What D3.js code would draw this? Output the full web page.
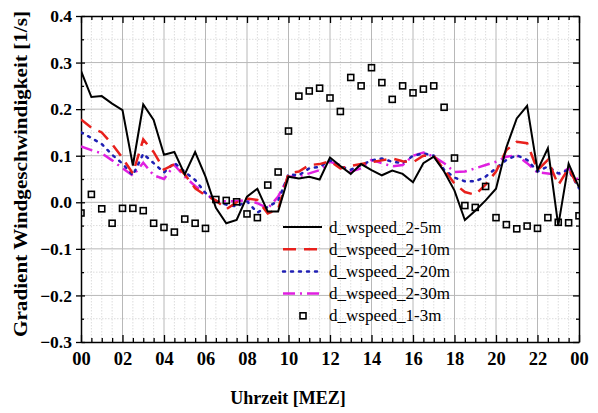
<!DOCTYPE html>
<html><head><meta charset="utf-8">
<script src="https://cdn.jsdelivr.net/npm/d3@7"></script>
<style>body{margin:0;background:#fff}svg{display:block}</style>
</head><body>
<svg id="c" width="598" height="413"></svg>
<script>
const hours = [0,0.5,1,1.5,2,2.5,3,3.5,4,4.5,5,5.5,6,6.5,7,7.5,8,8.5,9,9.5,10,10.5,11,11.5,12,12.5,13,13.5,14,14.5,15,15.5,16,16.5,17,17.5,18,18.5,19,19.5,20,20.5,21,21.5,22,22.5,23,23.5,24];
const xTickLabels = ["00","02","04","06","08","10","12","14","16","18","20","22","00"];
const yTicks = [0.4,0.3,0.2,0.1,0.0,-0.1,-0.2,-0.3];
const seriesNames = ["d_wspeed_2-5m","d_wspeed_2-10m","d_wspeed_2-20m","d_wspeed_2-30m","d_wspeed_1-3m"];
const s2_5 = [0.282,0.226,0.228,0.212,0.198,0.079,0.21,0.177,0.102,0.108,0.060,0.108,0.055,-0.012,-0.045,-0.038,0.012,0.029,-0.02,-0.02,0.055,0.051,0.055,0.049,0.096,0.078,0.061,0.082,0.069,0.058,0.068,0.061,0.043,0.084,0.098,0.066,0.025,-0.038,-0.018,0.004,0.029,0.118,0.18,0.207,0.069,0.116,-0.05,0.083,0.032];
const s2_10 = [0.178,0.160,0.150,0.125,0.095,0.062,0.135,0.108,0.070,0.082,0.060,0.030,0.015,0.004,-0.015,0.000,0.008,0.005,-0.024,-0.015,0.062,0.066,0.080,0.082,0.088,0.073,0.078,0.082,0.086,0.090,0.094,0.088,0.086,0.100,0.100,0.070,0.040,0.022,0.016,0.038,0.066,0.112,0.130,0.127,0.069,0.091,0.037,0.073,0.030];
const s2_20 = [0.150,0.138,0.125,0.102,0.083,0.058,0.104,0.084,0.064,0.085,0.065,0.048,0.020,0.002,-0.005,-0.009,0.002,-0.022,-0.010,0.003,0.060,0.058,0.073,0.076,0.090,0.077,0.070,0.080,0.090,0.094,0.087,0.084,0.100,0.105,0.100,0.070,0.053,0.045,0.045,0.055,0.073,0.091,0.101,0.091,0.066,0.077,0.062,0.069,0.030];
const s2_30 = [0.120,0.112,0.105,0.090,0.073,0.057,0.085,0.058,0.050,0.080,0.055,0.035,0.019,0.002,0.002,0.002,0.005,-0.002,-0.013,0.012,0.055,0.056,0.062,0.069,0.087,0.080,0.066,0.073,0.091,0.084,0.077,0.080,0.100,0.107,0.098,0.084,0.065,0.066,0.073,0.080,0.087,0.098,0.101,0.084,0.064,0.062,0.059,0.073,0.045];
const s1_3 = [-0.023,0.017,-0.014,-0.045,-0.013,-0.013,-0.018,-0.045,-0.054,-0.064,-0.036,-0.045,-0.056,0.006,0.004,0.001,-0.025,-0.033,0.037,0.065,0.153,0.228,0.239,0.245,0.224,0.195,0.268,0.250,0.289,0.257,0.221,0.250,0.235,0.243,0.250,0.204,0.095,-0.007,-0.011,0.034,-0.033,-0.048,-0.057,-0.051,-0.056,-0.033,-0.043,-0.044,-0.029];

const svg = d3.select("#c");
const L=81, R=579, T=16, B=342;
const x = d3.scaleLinear().domain([0,24]).range([L,R]);
const y = d3.scaleLinear().domain([-0.3,0.4]).range([B,T]);
const serif = "'Liberation Serif','Times New Roman',serif";

// grid
const g = svg.append("g");
const minorX = d3.range(0,24.01,0.5).filter(v=>v%2!==0);
const minorY = d3.range(-0.25,0.4,0.1);
g.selectAll(".mx").data(minorX).enter().append("line")
 .attr("x1",d=>x(d)).attr("x2",d=>x(d)).attr("y1",T).attr("y2",B)
 .attr("stroke","#dcdcdc").attr("stroke-width",1).attr("stroke-dasharray","1.5,1.5");
g.selectAll(".my").data(minorY).enter().append("line")
 .attr("y1",d=>y(d)).attr("y2",d=>y(d)).attr("x1",L).attr("x2",R)
 .attr("stroke","#dcdcdc").attr("stroke-width",1).attr("stroke-dasharray","1.5,1.5");
g.selectAll(".Mx").data(d3.range(2,24,2)).enter().append("line")
 .attr("x1",d=>x(d)).attr("x2",d=>x(d)).attr("y1",T).attr("y2",B)
 .attr("stroke","#b8b8b8").attr("stroke-width",1);
g.selectAll(".My").data(yTicks.slice(1,-1)).enter().append("line")
 .attr("y1",d=>y(d)).attr("y2",d=>y(d)).attr("x1",L).attr("x2",R)
 .attr("stroke","#b8b8b8").attr("stroke-width",1);

// axes
const xTickVals = d3.range(0,24.01,0.5);
const yTickVals = d3.range(-0.3,0.401,0.05);
function axis(gen, tr){ const a = svg.append("g").attr("transform",tr).call(gen); a.select(".domain").attr("stroke","#000").attr("stroke-width",1.5); a.selectAll(".tick line").attr("stroke","#000").attr("stroke-width",1.3); return a; }
// bottom
const xb = axis(d3.axisBottom(x).tickValues(xTickVals).tickSize(-4).tickSizeOuter(0).tickFormat((d)=> d%2===0 ? xTickLabels[d/2] : ""), `translate(0,${B})`);
xb.selectAll(".tick line").attr("y2",d=>d%2===0?-7:-4);
xb.selectAll(".tick text").attr("y",9).attr("dy","0.75em").style("font-family",serif).style("font-weight","bold").style("font-size","18.5px").attr("fill","#000");
// top
const xt = axis(d3.axisTop(x).tickValues(xTickVals).tickSize(-4).tickSizeOuter(0).tickFormat(""), `translate(0,${T})`);
xt.selectAll(".tick line").attr("y2",d=>d%2===0?7:4);
// left
const yl = axis(d3.axisLeft(y).tickValues(yTickVals).tickSize(4).tickSizeOuter(0).tickFormat(d=> Math.abs(Math.round(d*100))%10===0 ? d3.format(".1f")(d) : ""), `translate(${L},0)`);
yl.selectAll(".tick line").attr("x1",d=>Math.abs(Math.round(d*100))%10===0?4:3).attr("x2",d=>Math.abs(Math.round(d*100))%10===0?-5:0);
yl.selectAll(".tick text").attr("x",-9).style("font-family",serif).style("font-weight","bold").style("font-size","17.5px").attr("fill","#000");
// right
const yr = axis(d3.axisRight(y).tickValues(yTickVals).tickSize(-4).tickSizeOuter(0).tickFormat(""), `translate(${R},0)`);
yr.selectAll(".tick line").attr("x2",d=>Math.abs(Math.round(d*100))%10===0?-6:-3);

// series
const lineSeries = [
 {name:seriesNames[0], vals:s2_5, color:"#000000", dash:null, w:2},
 {name:seriesNames[1], vals:s2_10, color:"#e8201c", dash:"13,8", w:2.5},
 {name:seriesNames[2], vals:s2_20, color:"#1f1fb4", dash:"2,6", w:2.5},
 {name:seriesNames[3], vals:s2_30, color:"#e020e0", dash:"12,5,2,5", w:2.5}
];
const lg = d3.line().x((d,i)=>x(hours[i])).y(d=>y(d));
svg.append("clipPath").attr("id","cp").append("rect").attr("x",L).attr("y",T).attr("width",R-L).attr("height",B-T);
const plot = svg.append("g").attr("clip-path","url(#cp)");
[...lineSeries].reverse().forEach(s=>{
  plot.append("path").datum(s.vals).attr("d",lg).attr("fill","none")
   .attr("stroke",s.color).attr("stroke-width",s.w).attr("stroke-dasharray",s.dash)
   .attr("stroke-linejoin","miter").attr("stroke-linecap",s.dash==="2,6"?"round":"butt");
});
plot.selectAll(".sq").data(s1_3).enter().append("rect")
 .attr("x",(d,i)=>x(hours[i])-3).attr("y",d=>y(d)-3).attr("width",6).attr("height",6)
 .attr("fill","none").attr("stroke","#000").attr("stroke-width",1.6);

// legend
const leg = svg.append("g");
const ly0 = 227, ldy = 22.2;
lineSeries.forEach((s,i)=>{
  const yy = ly0 + i*ldy;
  leg.append("line").attr("x1",283).attr("x2",322).attr("y1",yy).attr("y2",yy)
   .attr("stroke",s.color).attr("stroke-width",s.w).attr("stroke-dasharray",s.dash).attr("stroke-linecap",s.dash==="2,6"?"round":"butt");
  leg.append("text").attr("x",329).attr("y",yy+5.5).text(s.name)
   .style("font-family",serif).style("font-size","17px").attr("fill","#000");
});
{
  const yy = ly0 + 4*ldy;
  leg.append("rect").attr("x",300).attr("y",yy-3).attr("width",6).attr("height",6).attr("fill","none").attr("stroke","#000").attr("stroke-width",1.6);
  leg.append("text").attr("x",329).attr("y",yy+5.5).text(seriesNames[4])
   .style("font-family",serif).style("font-size","17px").attr("fill","#000");
}

// titles
svg.append("text").attr("x",288).attr("y",404).attr("text-anchor","middle").text("Uhrzeit [MEZ]")
 .style("font-family",serif).style("font-weight","bold").style("font-size","18px");
svg.append("text").attr("transform","translate(27,174) rotate(-90)").attr("text-anchor","middle")
 .attr("textLength",326).attr("lengthAdjust","spacingAndGlyphs")
 .text("Gradient Windgeschwindigkeit [1/s]")
 .style("font-family",serif).style("font-weight","bold").style("font-size","19px");
</script>
</body></html>
